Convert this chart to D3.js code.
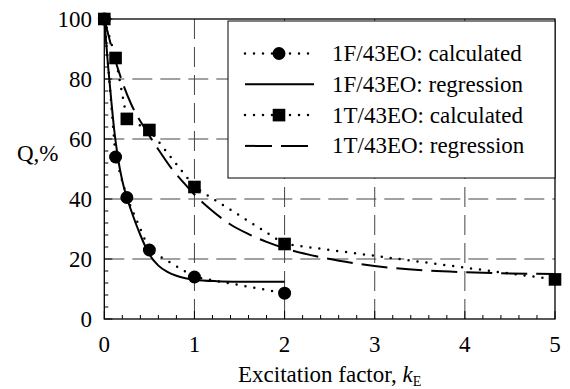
<!DOCTYPE html>
<html>
<head>
<meta charset="utf-8">
<script src="https://cdn.jsdelivr.net/npm/d3@7"></script>
<style>
  body { margin: 0; background: #fff; }
  svg text { font-family: "Liberation Serif", "Times New Roman", Times, "DejaVu Serif", serif; font-size: 23px; fill: #000; }
</style>
</head>
<body>
<div id="chart"></div>
<script>
// Calculated points
const kF_calc = [0, 0.125, 0.25, 0.5, 1, 2];
const qF_calc = [100, 54, 40.5, 23, 14, 8.6];
const kT_calc = [0, 0.125, 0.25, 0.5, 1, 2, 5];
const qT_calc = [100, 87, 66.7, 63, 44, 25, 13.2];

// Regression curves
const kF_reg = [0, 0.04, 0.08, 0.11, 0.15, 0.2, 0.25, 0.3, 0.4, 0.5, 0.6, 0.7, 0.8, 0.9, 1, 1.25, 1.5, 2];
const qF_reg = [100, 85, 72, 63, 54, 46, 40.5, 36, 28, 21.5, 17.8, 15.7, 14.4, 13.6, 13.1, 12.6, 12.45, 12.4];
const kT_reg = [0, 0.1, 0.2, 0.3, 0.45, 0.6, 0.75, 0.9, 1, 1.2, 1.4, 1.6, 1.8, 2, 2.4, 2.8, 3.2, 3.6, 4, 4.5, 5];
const qT_reg = [100, 88.5, 79, 71.5, 63.5, 56.5, 50, 44.8, 41.5, 36, 31.5, 28.3, 25.7, 23.6, 20.6, 18.5, 17, 16.1, 15.6, 15.2, 15];

const xTicks = [0, 1, 2, 3, 4, 5];
const yTicks = [0, 20, 40, 60, 80, 100];
const legendLabels = [
  "1F/43EO: calculated",
  "1F/43EO: regression",
  "1T/43EO: calculated",
  "1T/43EO: regression"
];

const W = 570, H = 389;
const svg = d3.select("#chart").append("svg")
  .attr("width", W).attr("height", H);

const x = d3.scaleLinear().domain([0, 5]).range([104.3, 555]);
const y = d3.scaleLinear().domain([0, 100]).range([319, 19]);

const zip = (a, b) => a.map((v, i) => [v, b[i]]);

// grid
const grid = svg.append("g").attr("stroke", "#444").attr("stroke-width", 1)
  .attr("stroke-dasharray", "20 8");
xTicks.slice(1, -1).forEach(t => {
  grid.append("line")
    .attr("x1", x(t)).attr("x2", x(t))
    .attr("y1", y(100)).attr("y2", y(0));
});
yTicks.slice(1, -1).forEach(t => {
  grid.append("line")
    .attr("x1", x(0)).attr("x2", x(5))
    .attr("y1", y(t)).attr("y2", y(t));
});

// minor ticks (inward)
const ticks = svg.append("g").attr("stroke", "#000").attr("stroke-width", 1);
d3.range(0, 5.001, 0.2).forEach(t => {
  const major = Math.abs(t - Math.round(t)) < 1e-6;
  ticks.append("line")
    .attr("x1", x(t)).attr("x2", x(t))
    .attr("y1", y(0)).attr("y2", y(0) - (major ? 8 : 4));
});
d3.range(0, 100.001, 4).forEach(t => {
  const major = t % 20 === 0;
  ticks.append("line")
    .attr("x1", x(0)).attr("x2", x(0) + (major ? 8 : 4))
    .attr("y1", y(t)).attr("y2", y(t));
});

// frame
svg.append("rect")
  .attr("x", x(0)).attr("y", y(100))
  .attr("width", x(5) - x(0)).attr("height", y(0) - y(100))
  .attr("fill", "none").attr("stroke", "#000").attr("stroke-width", 1.3);

// tick labels
svg.append("g").selectAll("text").data(yTicks).join("text")
  .attr("x", 92).attr("y", d => y(d) + 8)
  .attr("text-anchor", "end")
  .text(d => d);
svg.append("g").selectAll("text").data(xTicks).join("text")
  .attr("x", d => x(d)).attr("y", 352)
  .attr("text-anchor", "middle")
  .text(d => d);

// axis titles
svg.append("text").attr("x", 17).attr("y", 161).text("Q,%");
const xt = svg.append("text").attr("x", (x(0) + x(5)) / 2).attr("y", 382)
  .attr("text-anchor", "middle");
xt.append("tspan").text("Excitation factor, ");
xt.append("tspan").attr("font-style", "italic").text("k");
xt.append("tspan").attr("font-size", "14px").attr("dy", 4).text("E");

// legend box
const lg = svg.append("g");
lg.append("rect")
  .attr("x", 228).attr("y", 21).attr("width", 555 - 228).attr("height", 178 - 21)
  .attr("fill", "#fff").attr("stroke", "#000").attr("stroke-width", 1);

// lines
const line = d3.line().x(d => x(d[0])).y(d => y(d[1]));
const smooth = d3.line().x(d => x(d[0])).y(d => y(d[1])).curve(d3.curveMonotoneX);

const dotted = { "stroke-dasharray": "0 9", "stroke-linecap": "round", "stroke-width": 2.5 };
const styles = [
  dotted,
  { "stroke-width": 2 },
  dotted,
  { "stroke-dasharray": "26 9", "stroke-width": 2 }
];

function styled(sel, s) {
  sel.attr("fill", "none").attr("stroke", "#000");
  Object.entries(s).forEach(([k, v]) => sel.attr(k, v));
  return sel;
}

styled(svg.append("path").attr("d", smooth(zip(kF_reg, qF_reg))), styles[1]);
styled(svg.append("path").attr("d", smooth(zip(kT_reg, qT_reg))), styles[3]);
styled(svg.append("path").attr("d", line(zip(kF_calc, qF_calc))), styles[0]);
styled(svg.append("path").attr("d", line(zip(kT_calc, qT_calc))), styles[2]);

// markers
svg.append("g").selectAll("circle").data(zip(kF_calc, qF_calc)).join("circle")
  .attr("cx", d => x(d[0])).attr("cy", d => y(d[1])).attr("r", 6.5)
  .attr("fill", "#000");
svg.append("g").selectAll("rect").data(zip(kT_calc, qT_calc)).join("rect")
  .attr("x", d => x(d[0]) - 6.3).attr("y", d => y(d[1]) - 6.3)
  .attr("width", 12.6).attr("height", 12.6)
  .attr("fill", "#000");

// legend entries
legendLabels.forEach((label, i) => {
  const cy = 53.5 + i * 30.8;
  styled(lg.append("line")
    .attr("x1", 245).attr("x2", i === 3 ? 309 : 314)
    .attr("y1", cy).attr("y2", cy), i === 3 ? { "stroke-dasharray": "27 9", "stroke-width": 2 } : styles[i]);
  if (i === 0) {
    lg.append("circle").attr("cx", 279).attr("cy", cy).attr("r", 6.5).attr("fill", "#000");
  } else if (i === 2) {
    lg.append("rect").attr("x", 279 - 6.3).attr("y", cy - 6.3)
      .attr("width", 12.6).attr("height", 12.6).attr("fill", "#000");
  }
  lg.append("text").attr("x", 332).attr("y", cy + 7.5).text(label);
});
</script>
</body>
</html>
